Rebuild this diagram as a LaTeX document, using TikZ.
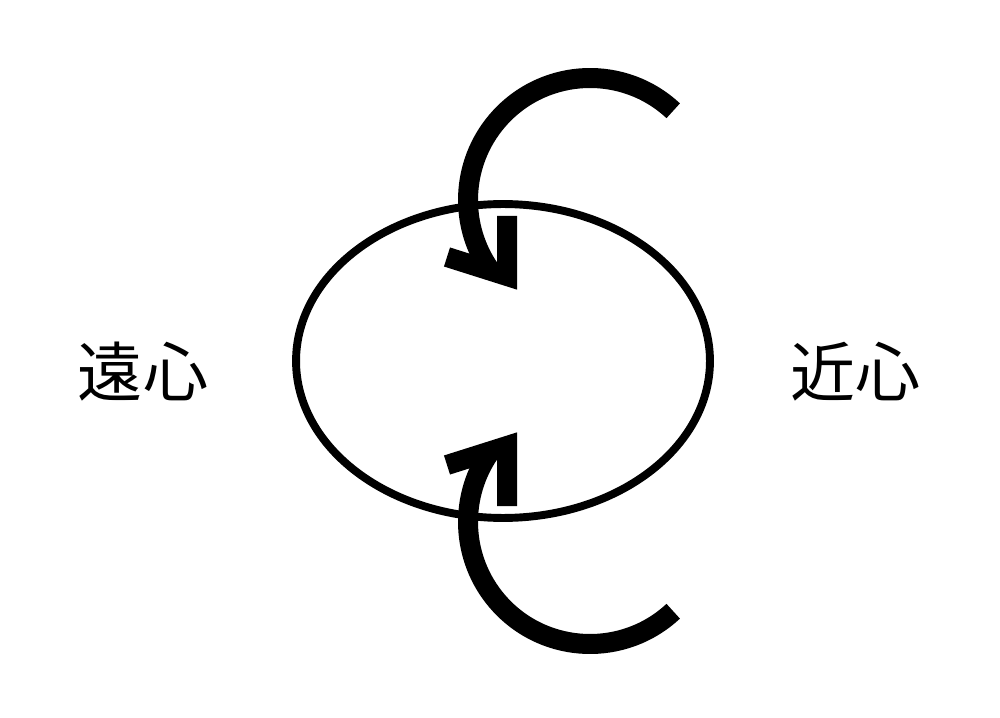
\documentclass[tikz,border=0pt]{standalone}
\usepackage{fontspec}
\newfontfamily\cjk{Noto Sans CJK JP}
\usetikzlibrary{shapes.geometric}
\tikzset{turn/.style={line width=0.4cm},
  head/.style={line width=0.4cm,line join=miter},
  label/.style={font=\cjk\fontsize{37}{37}\selectfont}}
\begin{document}
\begin{tikzpicture}[x=0.02cm,y=0.02cm]
  \useasboundingbox (0,0) rectangle (1000,717);
  \node (orbit) at (503,356) [draw,ellipse,line width=4.5pt,minimum width=8.28cm,minimum height=6.28cm,inner sep=0pt] {};
  \node (far) at (143,345) [label] {遠心};
  \node (near) at (855,345) [label] {近心};
  % upper turn
  \draw[turn] (590,517) ++(47:122) arc[start angle=47,end angle=214,radius=122];
  \draw[head] (447,460) -- (507,441) -- (507,501);
  % lower turn
  \draw[turn] (590,195) ++(-47:122) arc[start angle=-47,end angle=-214,radius=122];
  \draw[head] (447,252) -- (507,271) -- (507,211);
\end{tikzpicture}
\end{document}
